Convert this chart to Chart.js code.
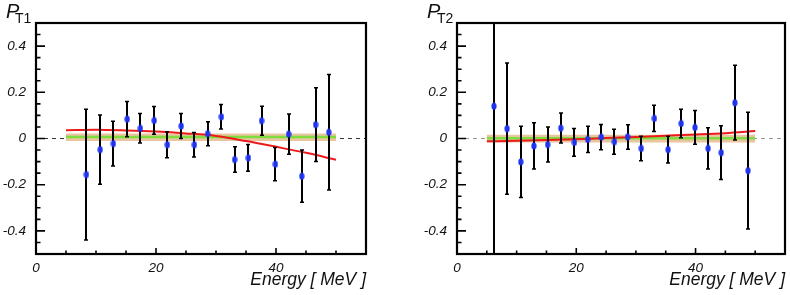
<!DOCTYPE html>
<html>
<head>
<meta charset="utf-8">
<script src="https://cdn.jsdelivr.net/npm/chart.js@4/dist/chart.umd.min.js"></script>
<style>
  body { margin: 0; background: #fff; width: 790px; height: 295px; position: relative; overflow: hidden; font-family: "Liberation Sans", Arial, sans-serif; color: #111; }
  canvas { position: absolute; top: 0; }
  .p { position: absolute; font-size: 20px; font-style: italic; line-height: 1; }
  .sub { position: absolute; font-size: 14px; line-height: 1; }
</style>
</head>
<body>
<canvas id="c1" width="395" height="295" style="left:0"></canvas>
<canvas id="c2" width="395" height="295" style="left:395px"></canvas>
<span class="p" style="left:6px;top:1px">P</span><span class="sub" style="left:15px;top:11px">T1</span>
<span class="p" style="left:427px;top:1px">P</span><span class="sub" style="left:437px;top:11px">T2</span>
<script>
// --- data ---
var xTicks = [0, 20, 40];
var xMinorTicks = [5, 10, 15, 25, 30, 35, 45, 50];
var yTicks = [-0.4, -0.2, 0, 0.2, 0.4];
var yMinorTicks = [-0.45, -0.35, -0.3, -0.25, -0.15, -0.1, -0.05, 0.05, 0.1, 0.15, 0.25, 0.3, 0.35, 0.45];

var pt1Energy = [8.4, 10.7, 12.9, 15.2, 17.4, 19.7, 21.9, 24.2, 26.4, 28.6, 30.9, 33.1, 35.4, 37.6, 39.9, 42.1, 44.3, 46.6, 48.8];
var pt1Value  = [-0.156, -0.048, -0.022, 0.084, 0.044, 0.078, -0.027, 0.054, -0.027, 0.021, 0.094, -0.091, -0.084, 0.077, -0.111, 0.019, -0.163, 0.060, 0.027];
var pt1Error  = [0.283, 0.150, 0.097, 0.076, 0.064, 0.060, 0.056, 0.054, 0.053, 0.052, 0.053, 0.055, 0.058, 0.063, 0.072, 0.087, 0.113, 0.160, 0.250];

var pt2Energy = [6.2, 8.4, 10.7, 12.9, 15.2, 17.4, 19.7, 21.9, 24.2, 26.4, 28.6, 30.9, 33.1, 35.4, 37.6, 39.9, 42.1, 44.3, 46.6, 48.8];
var pt2Value  = [0.140, 0.043, -0.101, -0.032, -0.026, 0.045, -0.017, -0.004, 0.006, -0.014, 0.007, -0.043, 0.087, -0.048, 0.065, 0.048, -0.043, -0.061, 0.155, -0.139];
var pt2Error  = [0.900, 0.284, 0.154, 0.100, 0.076, 0.065, 0.060, 0.057, 0.055, 0.054, 0.053, 0.053, 0.057, 0.058, 0.062, 0.073, 0.089, 0.116, 0.162, 0.253];

var fitEnergy = [5, 10, 15, 20, 25, 30, 35, 40, 45, 50];
var pt1Fit = [0.036, 0.038, 0.035, 0.030, 0.022, 0.011, -0.011, -0.036, -0.062, -0.092];
var pt2Fit = [-0.012, -0.010, -0.007, -0.003, 0.002, 0.007, 0.012, 0.017, 0.023, 0.032];

var bandEnergy = [5, 50];
var pt1Mean = [0.006, 0.006];
var pt1BandHi = [0.022, 0.022];
var pt1BandLo = [-0.011, -0.011];
var pt2Mean = [0.001, 0.001];
var pt2BandHi = [0.016, 0.016];
var pt2BandLo = [-0.017, -0.017];

var zeroEnergy = [0, 55];
var zeroValue = [0, 0];

function pts(xs, ys) {
  return xs.map(function (x, i) { return { x: x, y: ys[i] }; });
}

var dotImg = (function () {
  var c = document.createElement('canvas');
  c.width = 6; c.height = 8;
  var g = c.getContext('2d');
  g.fillStyle = '#1f33ee';
  g.beginPath();
  g.ellipse(3, 4, 2.6, 3.6, 0, 0, Math.PI * 2);
  g.fill();
  return c;
})();

// error bars under the dots, frame and inward ticks on top
var rootStyle = {
  id: 'rootStyle',
  beforeDatasetDraw: function (chart, args) {
    var ds = chart.data.datasets[args.index];
    if (!ds.errors) return;
    var x = chart.scales.x, y = chart.scales.y, a = chart.chartArea, ctx = chart.ctx;
    ctx.save();
    ctx.beginPath();
    ctx.rect(a.left, a.top, a.right - a.left, a.bottom - a.top);
    ctx.clip();
    ctx.strokeStyle = '#000';
    ctx.lineWidth = 2;
    ds.data.forEach(function (p, i) {
      var px = Math.round(x.getPixelForValue(p.x));
      var top = y.getPixelForValue(p.y + ds.errors[i]);
      var bot = y.getPixelForValue(p.y - ds.errors[i]);
      ctx.beginPath();
      ctx.moveTo(px, top); ctx.lineTo(px, bot);
      ctx.stroke();
      ctx.lineWidth = 1.5;
      ctx.beginPath();
      ctx.moveTo(px - 2, top); ctx.lineTo(px + 2, top);
      ctx.moveTo(px - 2, bot); ctx.lineTo(px + 2, bot);
      ctx.stroke();
      ctx.lineWidth = 2;
    });
    ctx.restore();
  },
  afterDraw: function (chart) {
    var x = chart.scales.x, y = chart.scales.y, a = chart.chartArea, ctx = chart.ctx;
    ctx.save();
    ctx.strokeStyle = '#000';
    ctx.lineWidth = 1.6;
    ctx.beginPath();
    yTicks.forEach(function (v) { var py = y.getPixelForValue(v); ctx.moveTo(a.left, py); ctx.lineTo(a.left + 9, py); });
    yMinorTicks.forEach(function (v) { var py = y.getPixelForValue(v); ctx.moveTo(a.left, py); ctx.lineTo(a.left + 4.5, py); });
    xTicks.forEach(function (v) { var px = x.getPixelForValue(v); ctx.moveTo(px, a.bottom); ctx.lineTo(px, a.bottom - 6); });
    xMinorTicks.forEach(function (v) { var px = x.getPixelForValue(v); ctx.moveTo(px, a.bottom); ctx.lineTo(px, a.bottom - 3.5); });
    ctx.stroke();
    ctx.lineWidth = 2.2;
    ctx.strokeRect(a.left, a.top, a.right - a.left, a.bottom - a.top);
    ctx.restore();
  }
};

var tickFont = { family: 'Liberation Sans', size: 13.5, style: 'italic' };

function makeChart(id, set) {
  return new Chart(document.getElementById(id), {
    type: 'scatter',
    data: {
      datasets: [
        { label: 'data', data: pts(set.energy, set.value), errors: set.error, pointStyle: dotImg, showLine: false, order: 0 },
        { label: 'fit', data: pts(fitEnergy, set.fit), showLine: true, borderColor: '#ee1a1a', borderWidth: 2, pointRadius: 0, cubicInterpolationMode: 'monotone', order: 1 },
        { label: 'mean', data: pts(bandEnergy, set.mean), showLine: true, borderColor: '#7edd3e', borderWidth: 2.5, pointRadius: 0, order: 2 },
        { label: 'bandHi', data: pts(bandEnergy, set.hi), showLine: true, fill: '+1', backgroundColor: '#e9c6a0', borderWidth: 0, pointRadius: 0, order: 3 },
        { label: 'bandLo', data: pts(bandEnergy, set.lo), showLine: true, borderWidth: 0, pointRadius: 0, order: 4 },
        { label: 'zero', data: pts(zeroEnergy, zeroValue), showLine: true, borderColor: set.zeroColor, borderDash: [4, 4], borderWidth: 1, pointRadius: 0, order: 5 }
      ]
    },
    options: {
      responsive: false,
      animation: false,
      events: [],
      layout: { padding: { left: 0, top: 23, right: set.padRight, bottom: 0 } },
      plugins: { legend: { display: false }, tooltip: { enabled: false } },
      scales: {
        x: {
          type: 'linear', min: 0, max: 55,
          afterFit: function (s) { s.height = 41; },
          afterBuildTicks: function (s) { s.ticks = xTicks.map(function (v) { return { value: v }; }); },
          grid: { display: false, drawTicks: false },
          border: { display: false },
          ticks: { font: tickFont, color: '#111', padding: 6, maxRotation: 0 },
          title: { display: true, text: 'Energy [ MeV ]', align: 'end', color: '#111',
                   font: { family: 'Liberation Sans', size: 17.5, style: 'italic' }, padding: { top: 0, bottom: 4 } }
        },
        y: {
          min: -0.5, max: 0.5,
          afterFit: function (s) { s.width = set.axisWidth; },
          afterBuildTicks: function (s) { s.ticks = yTicks.map(function (v) { return { value: v }; }); },
          grid: { display: false, drawTicks: false },
          border: { display: false },
          ticks: { font: tickFont, color: '#111', padding: 10, callback: function (v) { return String(v); } }
        }
      }
    },
    plugins: [rootStyle]
  });
}

makeChart('c1', { energy: pt1Energy, value: pt1Value, error: pt1Error, fit: pt1Fit, mean: pt1Mean, hi: pt1BandHi, lo: pt1BandLo,
                  zeroColor: '#333', axisWidth: 36, padRight: 29 });
makeChart('c2', { energy: pt2Energy, value: pt2Value, error: pt2Error, fit: pt2Fit, mean: pt2Mean, hi: pt2BandHi, lo: pt2BandLo,
                  zeroColor: '#999', axisWidth: 62, padRight: 3 });
</script>
</body>
</html>
